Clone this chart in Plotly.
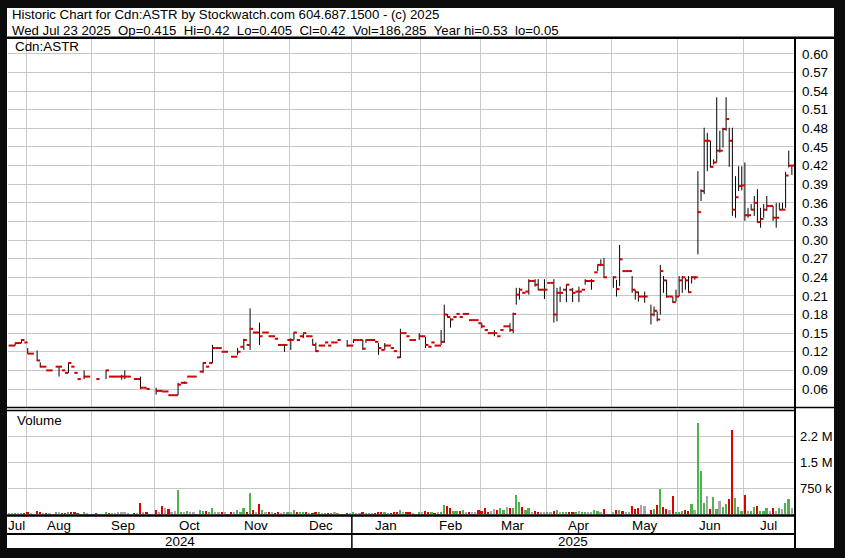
import plotly.graph_objects as go
import pandas as pd

W, H = 845, 558

# ---------------- data ----------------
holidays = ["2024-08-05", "2024-09-02", "2024-10-14", "2024-12-25", "2024-12-26",
            "2025-01-01", "2025-02-17", "2025-04-18", "2025-05-19", "2025-07-01"]
dates = [d for d in pd.bdate_range("2024-07-24", "2025-07-23")
         if d.strftime("%Y-%m-%d") not in holidays]

N = None
close = [
    .130, .130, .134, .134, .139, .135, .117, .117, N, .106,
    .096, .096, .090, .090, N, .096, .096, .090, .086, .102,
    .096, .086, .076, N, .080, .080, N, N, .076, N,
    N, .090, .080, .080, .080, .080, .080, .080, .080, N,
    .076, .076, .062, .062, .060, N, N, .057, .057, .056,
    .056, .050, .050, .050, .067, .070, .070, .080, .080, .080,
    N, .088, .102, .096, .102, .126, .126, .126, .120, .120,
    N, .112, .112, .120, .128, .139, .131, .157, .151, .151,
    .145, .151, .151, .145, .145, .141, .131, .131, .131, .139,
    .139, .151, .139, .145, .150, .145, .145, .131, .121, .130,
    .130, .135, .130, .135, .135, .139, N, N, .130, .130,
    .139, .139, .139, .125, .139, .139, .139, .136, .126, .123,
    .130, .130, .126, .121, .111, .150, .150, .145, .139, .139,
    N, .145, .145, .131, .128, .135, .130, .130, .136, .180,
    .176, .172, .176, .181, .176, .181, .181, .171, .171, .171,
    .166, .161, .155, .150, .150, .150, .145, .155, .161, .161,
    .155, .181, .212, .220, .215, .217, .234, .234, .228, .220,
    .220, .220, .231, .231, .180, .215, .215, .220, .228, .220,
    .215, .217, .217, .220, .234, .234, .234, .248, .260, .260,
    .240, N, N, .240, .221, .269, .250, .250, .250, .220,
    .216, .209, .209, .209, N, .180, .186, .172, .250, .235,
    .209, .209, .200, .209, .235, .240, .235, .216, .240, .240,
    .345, .379, .460, .460, .418, .425, .444, .444, .479, .495,
    .460, .349, .369, .387, .388, .340, .340, .349, .360, .329,
    .334, .349, .355, .355, .336, .336, .349, .349, .404, .420,
    .420,
]
high = [
    .130, .130, .134, .134, .140, .135, .126, .117, N, .122,
    .103, .096, .090, .090, N, .096, .096, .090, .086, .102,
    .096, .086, .076, N, .090, .080, N, N, .076, N,
    N, .090, .080, .080, .080, .080, .083, .090, .080, N,
    .076, .076, .080, .062, .060, N, N, .062, .057, .056,
    .056, .050, .050, .050, .070, .070, .072, .080, .080, .080,
    N, .088, .102, .096, .102, .131, .126, .126, .120, .120,
    N, .112, .112, .126, .128, .141, .131, .190, .151, .151,
    .167, .151, .151, .145, .145, .141, .131, .131, .131, .139,
    .142, .151, .139, .145, .150, .145, .145, .141, .135, .130,
    .130, .135, .130, .135, .135, .139, N, N, .139, .130,
    .139, .139, .139, .139, .139, .139, .139, .136, .134, .123,
    .134, .130, .126, .121, .111, .157, .150, .145, .139, .139,
    N, .150, .145, .144, .128, .135, .130, .130, .155, .196,
    .181, .174, .176, .181, .176, .181, .181, .171, .171, .171,
    .166, .166, .155, .150, .150, .155, .145, .155, .161, .161,
    .166, .183, .223, .223, .215, .217, .237, .234, .237, .237,
    .220, .237, .231, .231, .237, .223, .225, .220, .228, .220,
    .223, .217, .225, .220, .237, .234, .237, .248, .260, .269,
    .271, N, N, .242, .236, .292, .250, .250, .250, .242,
    .220, .217, .209, .217, N, .196, .193, .185, .260, .242,
    .236, .209, .209, .220, .242, .242, .239, .242, .242, .242,
    .411, .382, .481, .473, .460, .430, .530, .476, .481, .530,
    .481, .481, .403, .419, .419, .425, .352, .358, .371, .382,
    .352, .358, .371, .355, .355, .360, .360, .360, .410, .444,
    .420,
]
low = [
    .130, .130, .130, .134, .134, .135, .117, .117, N, .105,
    .095, .096, .090, .090, N, .096, .080, .090, .086, .086,
    .096, .086, .076, N, .076, .080, N, N, .076, N,
    N, .076, .080, .080, .080, .080, .075, .076, .080, N,
    .076, .076, .060, .062, .060, N, N, .051, .057, .056,
    .056, .050, .050, .050, .050, .070, .068, .080, .080, .080,
    N, .088, .086, .096, .102, .102, .126, .126, .120, .120,
    N, .112, .112, .115, .128, .123, .131, .123, .151, .151,
    .131, .151, .151, .145, .145, .141, .131, .131, .120, .139,
    .123, .139, .139, .145, .142, .145, .145, .131, .120, .130,
    .130, .135, .130, .135, .135, .139, N, N, .128, .130,
    .134, .139, .139, .123, .134, .139, .139, .136, .115, .123,
    .123, .130, .126, .121, .111, .110, .150, .145, .139, .139,
    N, .139, .145, .126, .128, .135, .130, .130, .131, .134,
    .176, .159, .176, .181, .176, .181, .181, .171, .171, .171,
    .166, .158, .155, .150, .150, .145, .145, .155, .161, .161,
    .152, .150, .196, .204, .215, .217, .212, .234, .225, .220,
    .220, .205, .231, .231, .167, .169, .200, .220, .200, .220,
    .200, .217, .200, .220, .228, .234, .220, .248, .250, .258,
    .239, N, N, .223, .209, .226, .250, .250, .250, .215,
    .204, .201, .209, .199, N, .164, .177, .169, .180, .215,
    .207, .209, .199, .201, .209, .215, .220, .215, .230, .236,
    .277, .363, .374, .411, .417, .422, .425, .441, .449, .476,
    .418, .339, .336, .379, .380, .331, .336, .349, .339, .328,
    .320, .336, .347, .355, .331, .320, .349, .349, .352, .417,
    .405,
]
volume_k = [
    20, 15, 15, 10, 25, 12, 40, 20, 0, 85,
    30, 20, 25, 15, 0, 35, 40, 20, 25, 60,
    30, 35, 25, 0, 40, 20, 0, 0, 15, 0,
    0, 30, 20, 15, 25, 30, 45, 50, 20, 0,
    20, 15, 330, 60, 40, 0, 0, 120, 70, 230,
    170, 150, 60, 80, 690, 70, 40, 90, 60, 50,
    0, 110, 85, 80, 60, 175, 70, 40, 50, 30,
    0, 40, 30, 115, 40, 160, 60, 610, 105, 60,
    290, 120, 70, 40, 30, 20, 30, 25, 40, 30,
    50, 110, 70, 40, 30, 30, 20, 25, 60, 30,
    20, 25, 15, 20, 30, 25, 0, 0, 20, 15,
    30, 20, 20, 40, 25, 15, 20, 15, 70, 30,
    40, 20, 25, 30, 40, 110, 60, 30, 40, 20,
    0, 60, 40, 90, 40, 30, 20, 30, 60, 250,
    230, 160, 80, 90, 86, 120, 40, 30, 60, 40,
    110, 80, 163, 60, 90, 135, 125, 160, 110, 200,
    180, 160, 548, 350, 210, 120, 180, 60, 80, 50,
    60, 70, 40, 50, 90, 110, 60, 40, 50, 30,
    40, 30, 86, 40, 30, 30, 40, 120, 90, 60,
    150, 0, 0, 60, 120, 125, 90, 70, 60, 230,
    150, 160, 270, 220, 0, 115, 140, 250, 731, 190,
    150, 120, 519, 60, 70, 100, 120, 80, 300, 120,
    2630, 1240, 330, 520, 150, 490, 140, 370, 200, 300,
    423, 2420, 452, 200, 100, 548, 100, 100, 190, 220,
    100, 100, 160, 90, 170, 100, 180, 130, 330, 433,
    186,
]
price_ticks = [0.06, 0.09, 0.12, 0.15, 0.18, 0.21, 0.24, 0.27, 0.30, 0.33,
               0.36, 0.39, 0.42, 0.45, 0.48, 0.51, 0.54, 0.57, 0.60]
vol_tickvals = [750000, 1500000, 2250000]
vol_ticktext = ["750 k", "1.5 M", "2.2 M"]
header1 = "Historic Chart for Cdn:ASTR by Stockwatch.com 604.687.1500 - (c) 2025"
header2 = ("Wed Jul 23 2025\u00a0\u00a0Op=0.415\u00a0\u00a0Hi=0.42\u00a0\u00a0Lo=0.405\u00a0\u00a0"
           "Cl=0.42\u00a0\u00a0Vol=186,285\u00a0\u00a0Year hi=0.53\u00a0\u00a0lo=0.05")
symbol = "Cdn:ASTR"

assert len(dates) == len(close) == len(high) == len(low) == len(volume_k)

# ---------------- derived ----------------
n = len(dates)
idx = list(range(n))
month_start = [0] + [i for i in range(1, n) if dates[i].month != dates[i - 1].month]
month_bounds = [m - 0.5 for m in month_start[1:]]
month_names = [dates[m].strftime("%b") for m in month_start]
month_ends = month_start[1:] + [n]
month_centers = [(a + b - 1) / 2 for a, b in zip(month_start, month_ends)]
year_bound = [m - 0.5 for m in month_start if dates[m].month == 1][0]

XR = [-0.3, n]
GRID = "#c8c8c8"
FONT = "Liberation Sans, Arial, sans-serif"
FS = 13.4

hl_x, hl_y, ck_x, ck_y = [], [], [], []
for i, (h, l, c) in enumerate(zip(high, low, close)):
    if c is None:
        continue
    hl_x += [i, i, None]
    hl_y += [l, h, None]
    ck_x += [i - 0.1, i + 0.95, None]
    ck_y += [c, c, None]

colors = []
prev = None
for c in close:
    if c is None or prev is None or c == prev:
        colors.append("#a6a6a6")
    elif c > prev:
        colors.append("#4db34d")
    else:
        colors.append("#e00000")
    if c is not None:
        prev = c

fig = go.Figure()
fig.add_trace(go.Scatter(x=hl_x, y=hl_y, mode="lines", line=dict(color="black", width=1),
                         hoverinfo="skip", xaxis="x", yaxis="y"))
fig.add_trace(go.Scatter(x=ck_x, y=ck_y, mode="lines", line=dict(color="#cc0000", width=2),
                         hoverinfo="skip", xaxis="x", yaxis="y"))
fig.add_trace(go.Bar(x=idx, y=[v * 1000 for v in volume_k], marker=dict(color=colors, line=dict(width=0)),
                     width=0.55, xaxis="x2", yaxis="y2", hoverinfo="skip"))


def px(x):
    return x / W


def py(y):
    return 1 - y / H


xdom = [px(8), px(795)]
fig.update_layout(
    width=W, height=H, margin=dict(l=0, r=0, t=0, b=0),
    paper_bgcolor="#0c0c0c", plot_bgcolor="white", showlegend=False,
    font=dict(family=FONT, size=FS, color="black"),
    xaxis=dict(domain=xdom, range=XR, anchor="y", tickmode="array", tickvals=month_bounds,
               showticklabels=False, ticks="", showgrid=True, gridcolor=GRID, gridwidth=1,
               zeroline=False, showline=False),
    yaxis=dict(domain=[py(407), py(39)], range=[0.031, 0.624], side="right", anchor="x",
               tickmode="array", tickvals=price_ticks, tickformat=".2f", ticks="",
               ticklabelstandoff=6, showgrid=True, gridcolor=GRID, zeroline=False,
               showline=False, tickfont=dict(size=FS)),
    xaxis2=dict(domain=xdom, range=XR, anchor="y2", tickmode="array", tickvals=month_bounds,
                showticklabels=False, ticks="", showgrid=True, gridcolor=GRID,
                zeroline=False, showline=False),
    yaxis2=dict(domain=[py(514), py(410)], range=[0, 3.0e6], side="right", anchor="x2",
                tickmode="array", tickvals=vol_tickvals, ticktext=vol_ticktext, ticks="",
                ticklabelstandoff=4, showgrid=True, gridcolor=GRID, zeroline=False,
                showline=False, tickfont=dict(size=13)),
    bargap=0,
)

shapes = [
    dict(type="rect", xref="paper", yref="paper", x0=px(7), x1=px(834), y0=py(548), y1=py(8),
         fillcolor="white", line=dict(width=0), layer="below"),
    dict(type="rect", xref="paper", yref="paper", x0=px(7), x1=px(834), y0=py(39), y1=py(36.5),
         fillcolor="black", line=dict(width=0)),
    dict(type="line", xref="paper", yref="paper", x0=px(795), x1=px(795), y0=py(548), y1=py(38),
         line=dict(color="black", width=2)),
    dict(type="line", xref="paper", yref="paper", x0=px(7), x1=px(834), y0=py(407.5), y1=py(407.5),
         line=dict(color="black", width=1.5)),
    dict(type="line", xref="paper", yref="paper", x0=px(7), x1=px(795), y0=py(410.5), y1=py(410.5),
         line=dict(color="black", width=1.5)),
    dict(type="line", xref="paper", yref="paper", x0=px(7), x1=px(795), y0=py(515.5), y1=py(515.5),
         line=dict(color="black", width=2.5)),
    dict(type="line", xref="paper", yref="paper", x0=px(7), x1=px(795), y0=py(534), y1=py(534),
         line=dict(color="black", width=2)),
    dict(type="line", xref="x2", yref="paper", x0=year_bound, x1=year_bound, y0=py(548), y1=py(516),
         line=dict(color="black", width=1.5)),
]
fig.update_layout(shapes=shapes)

ann = [
    dict(text=header1, x=px(10), y=py(15), xref="paper", yref="paper", xanchor="left",
         yanchor="middle", showarrow=False, font=dict(size=13.2)),
    dict(text=header2, x=px(10), y=py(30.5), xref="paper", yref="paper", xanchor="left",
         yanchor="middle", showarrow=False, font=dict(size=13.2)),
    dict(text=symbol, x=px(13), y=py(47), xref="paper", yref="paper", xanchor="left",
         yanchor="middle", showarrow=False),
    dict(text="Volume", x=px(15), y=py(420), xref="paper", yref="paper", xanchor="left",
         yanchor="middle", showarrow=False),
]
for c, name in zip(month_centers, month_names):
    ann.append(dict(text=name, x=c, y=py(525), xref="x2", yref="paper", xanchor="center",
                    yanchor="middle", showarrow=False))
years = [str(dates[0].year), str(dates[-1].year)]
for yr, c in zip(years, [(XR[0] + year_bound) / 2, (year_bound + XR[1]) / 2]):
    ann.append(dict(text=yr, x=c, y=py(541), xref="x2", yref="paper", xanchor="center",
                    yanchor="middle", showarrow=False))
fig.update_layout(annotations=ann)

fig.write_html("out.html", config={"displayModeBar": False},
               post_script="document.body.style.margin='0px';")
